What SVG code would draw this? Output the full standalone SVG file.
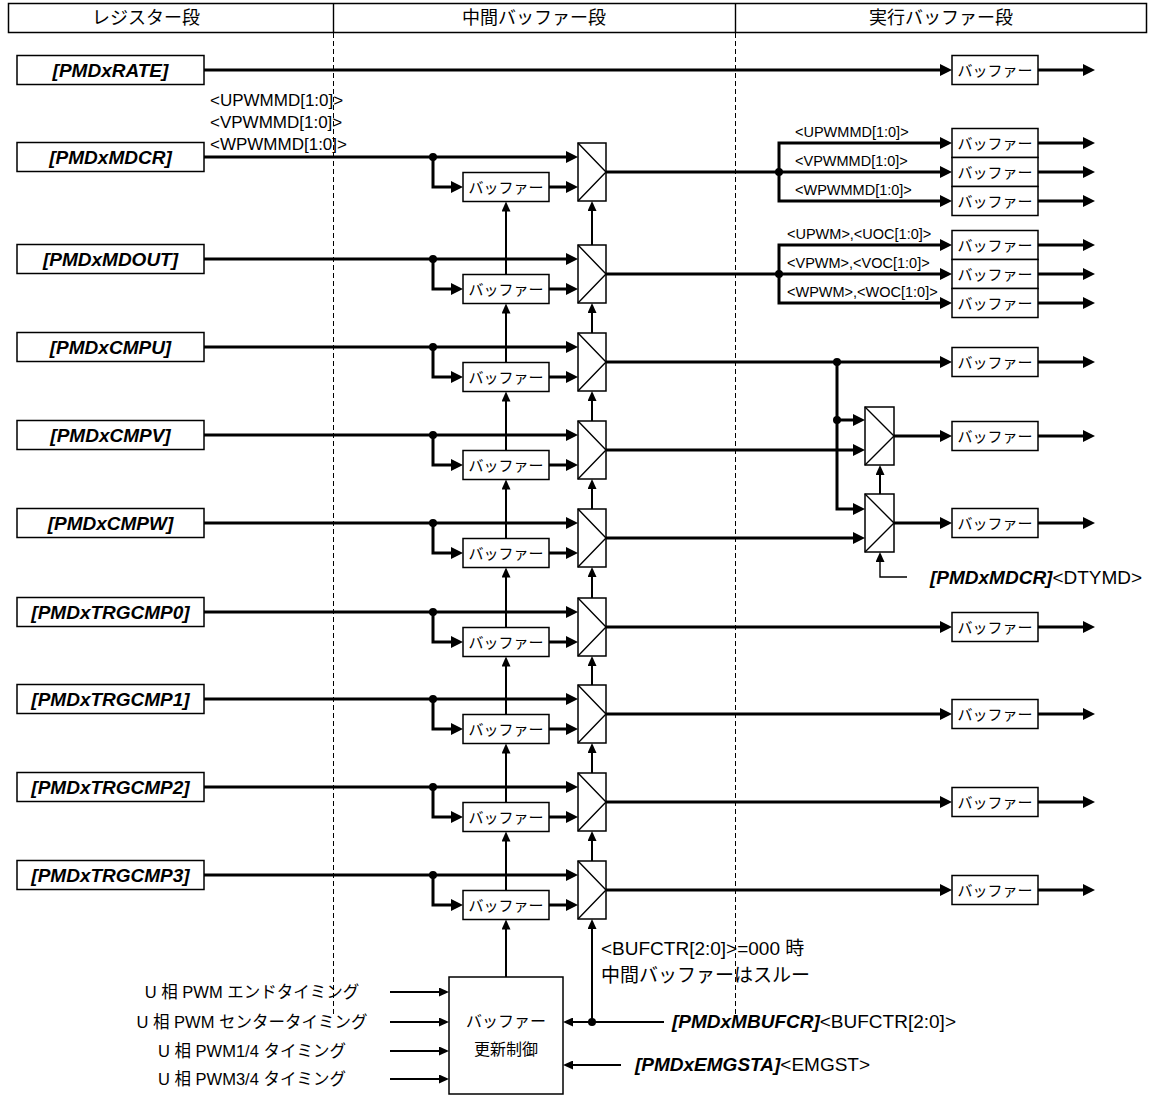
<svg xmlns="http://www.w3.org/2000/svg" width="1155" height="1097" viewBox="0 0 1155 1097">
<defs>
<style>
.bg{fill:#fff}
.box{fill:#fff;stroke:#000;stroke-width:1.5}
.w3{fill:none;stroke:#000;stroke-width:3}
.w2{fill:none;stroke:#000;stroke-width:2}
.w1{fill:none;stroke:#000;stroke-width:1.4}
.dash{fill:none;stroke:#000;stroke-width:1;stroke-dasharray:5 3}
.dot{fill:#000}
text{font-family:"Liberation Sans","Noto Sans CJK JP",sans-serif;fill:#000}
.hd{font-size:18px;text-anchor:middle}
.reg{font-size:19px;font-weight:bold;font-style:italic;text-anchor:middle}
.bi{font-weight:bold;font-style:italic}
.buf{font-size:15px;text-anchor:middle}
.lbl{font-size:17px}
.sl{font-size:14.5px}
.ann{font-size:19px}
.in{font-size:16.5px;text-anchor:middle}
.ctl{font-size:16px;text-anchor:middle}
</style>
<marker id="a3" viewBox="0 0 12 12" markerWidth="12" markerHeight="12" refX="8" refY="6" orient="auto-start-reverse" markerUnits="userSpaceOnUse"><path d="M0,0 L12,6 L0,12 z"/></marker>
<marker id="a2" viewBox="0 0 10 9" markerWidth="10" markerHeight="9" refX="7" refY="4.5" orient="auto-start-reverse" markerUnits="userSpaceOnUse"><path d="M0,0 L10,4.5 L0,9 z"/></marker>
</defs>
<rect class="bg" x="0" y="0" width="1155" height="1097"/>

<g id="header">
<rect class="box" x="8.5" y="3.5" width="1138" height="29"/>
<line class="w1" x1="333.5" y1="3.5" x2="333.5" y2="32.5"/>
<line class="w1" x1="735.5" y1="3.5" x2="735.5" y2="32.5"/>
<text class="hd" x="146" y="24">レジスター段</text>
<text class="hd" x="534" y="24">中間バッファー段</text>
<text class="hd" x="941" y="24">実行バッファー段</text>
</g>

<g id="stage-dividers">
<line class="dash" x1="333.5" y1="33" x2="333.5" y2="1015"/>
<line class="dash" x1="735.5" y1="33" x2="735.5" y2="1015"/>
</g>

<g id="connectors">
<path class="w3" d="M204,70 H948" marker-end="url(#a3)"/>
<path class="w3" d="M204,157 H574" marker-end="url(#a3)"/>
<path class="w3" d="M433,157 V187 H459" marker-end="url(#a3)"/>
<path class="w3" d="M549,187 H574" marker-end="url(#a3)"/>
<path class="w3" d="M204,259 H574" marker-end="url(#a3)"/>
<path class="w3" d="M433,259 V289 H459" marker-end="url(#a3)"/>
<path class="w3" d="M549,289 H574" marker-end="url(#a3)"/>
<path class="w3" d="M204,347 H574" marker-end="url(#a3)"/>
<path class="w3" d="M433,347 V377 H459" marker-end="url(#a3)"/>
<path class="w3" d="M549,377 H574" marker-end="url(#a3)"/>
<path class="w3" d="M204,435 H574" marker-end="url(#a3)"/>
<path class="w3" d="M433,435 V465 H459" marker-end="url(#a3)"/>
<path class="w3" d="M549,465 H574" marker-end="url(#a3)"/>
<path class="w3" d="M204,523 H574" marker-end="url(#a3)"/>
<path class="w3" d="M433,523 V553 H459" marker-end="url(#a3)"/>
<path class="w3" d="M549,553 H574" marker-end="url(#a3)"/>
<path class="w3" d="M204,612 H574" marker-end="url(#a3)"/>
<path class="w3" d="M433,612 V642 H459" marker-end="url(#a3)"/>
<path class="w3" d="M549,642 H574" marker-end="url(#a3)"/>
<path class="w3" d="M204,699 H574" marker-end="url(#a3)"/>
<path class="w3" d="M433,699 V729 H459" marker-end="url(#a3)"/>
<path class="w3" d="M549,729 H574" marker-end="url(#a3)"/>
<path class="w3" d="M204,787 H574" marker-end="url(#a3)"/>
<path class="w3" d="M433,787 V817 H459" marker-end="url(#a3)"/>
<path class="w3" d="M549,817 H574" marker-end="url(#a3)"/>
<path class="w3" d="M204,875 H574" marker-end="url(#a3)"/>
<path class="w3" d="M433,875 V905 H459" marker-end="url(#a3)"/>
<path class="w3" d="M549,905 H574" marker-end="url(#a3)"/>
<path class="w2" d="M506,274.5 V204.5" marker-end="url(#a2)"/>
<path class="w2" d="M506,362.5 V306.5" marker-end="url(#a2)"/>
<path class="w2" d="M506,450.5 V394.5" marker-end="url(#a2)"/>
<path class="w2" d="M506,538.5 V482.5" marker-end="url(#a2)"/>
<path class="w2" d="M506,627.5 V570.5" marker-end="url(#a2)"/>
<path class="w2" d="M506,714.5 V659.5" marker-end="url(#a2)"/>
<path class="w2" d="M506,802.5 V746.5" marker-end="url(#a2)"/>
<path class="w2" d="M506,890.5 V834.5" marker-end="url(#a2)"/>
<path class="w2" d="M506,977 V922.5" marker-end="url(#a2)"/>
<path class="w2" d="M592,245 V204" marker-end="url(#a2)"/>
<path class="w2" d="M592,333 V306" marker-end="url(#a2)"/>
<path class="w2" d="M592,421 V394" marker-end="url(#a2)"/>
<path class="w2" d="M592,509 V482" marker-end="url(#a2)"/>
<path class="w2" d="M592,598 V570" marker-end="url(#a2)"/>
<path class="w2" d="M592,685 V659" marker-end="url(#a2)"/>
<path class="w2" d="M592,773 V746" marker-end="url(#a2)"/>
<path class="w2" d="M592,861 V834" marker-end="url(#a2)"/>
<path class="w2" d="M592,1022 V922" marker-end="url(#a2)"/>
<path class="w2" d="M664,1022 H566" marker-end="url(#a2)"/>
<path class="w2" d="M621,1065 H566" marker-end="url(#a2)"/>
<path class="w2" d="M390,992 H446" marker-end="url(#a2)"/>
<path class="w2" d="M390,1022 H446" marker-end="url(#a2)"/>
<path class="w2" d="M390,1051 H446" marker-end="url(#a2)"/>
<path class="w2" d="M390,1079 H446" marker-end="url(#a2)"/>
<path class="w3" d="M606,172 H948" marker-end="url(#a3)"/>
<path class="w3" d="M948,143 H779 V201 H948" marker-start="url(#a3)" marker-end="url(#a3)"/>
<path class="w3" d="M606,274 H948" marker-end="url(#a3)"/>
<path class="w3" d="M948,245 H779 V303 H948" marker-start="url(#a3)" marker-end="url(#a3)"/>
<path class="w3" d="M606,362 H948" marker-end="url(#a3)"/>
<path class="w3" d="M837,362 V509 H861" marker-end="url(#a3)"/>
<path class="w3" d="M837,420 H861" marker-end="url(#a3)"/>
<path class="w3" d="M606,450 H861" marker-end="url(#a3)"/>
<path class="w3" d="M606,538 H861" marker-end="url(#a3)"/>
<path class="w3" d="M894,436 H948" marker-end="url(#a3)"/>
<path class="w3" d="M894,523 H948" marker-end="url(#a3)"/>
<path class="w2" d="M880,494 V468" marker-end="url(#a2)"/>
<path class="w1" d="M907,577 H880 V555" marker-end="url(#a2)"/>
<path class="w3" d="M606,627 H948" marker-end="url(#a3)"/>
<path class="w3" d="M606,714 H948" marker-end="url(#a3)"/>
<path class="w3" d="M606,802 H948" marker-end="url(#a3)"/>
<path class="w3" d="M606,890 H948" marker-end="url(#a3)"/>
<path class="w3" d="M1038,70 H1091" marker-end="url(#a3)"/>
<path class="w3" d="M1038,143 H1091" marker-end="url(#a3)"/>
<path class="w3" d="M1038,172 H1091" marker-end="url(#a3)"/>
<path class="w3" d="M1038,201 H1091" marker-end="url(#a3)"/>
<path class="w3" d="M1038,245 H1091" marker-end="url(#a3)"/>
<path class="w3" d="M1038,274 H1091" marker-end="url(#a3)"/>
<path class="w3" d="M1038,303 H1091" marker-end="url(#a3)"/>
<path class="w3" d="M1038,362 H1091" marker-end="url(#a3)"/>
<path class="w3" d="M1038,436 H1091" marker-end="url(#a3)"/>
<path class="w3" d="M1038,523 H1091" marker-end="url(#a3)"/>
<path class="w3" d="M1038,627 H1091" marker-end="url(#a3)"/>
<path class="w3" d="M1038,714 H1091" marker-end="url(#a3)"/>
<path class="w3" d="M1038,802 H1091" marker-end="url(#a3)"/>
<path class="w3" d="M1038,890 H1091" marker-end="url(#a3)"/>
<circle class="dot" cx="433" cy="157" r="4"/>
<circle class="dot" cx="433" cy="259" r="4"/>
<circle class="dot" cx="433" cy="347" r="4"/>
<circle class="dot" cx="433" cy="435" r="4"/>
<circle class="dot" cx="433" cy="523" r="4"/>
<circle class="dot" cx="433" cy="612" r="4"/>
<circle class="dot" cx="433" cy="699" r="4"/>
<circle class="dot" cx="433" cy="787" r="4"/>
<circle class="dot" cx="433" cy="875" r="4"/>
<circle class="dot" cx="779" cy="172" r="4"/>
<circle class="dot" cx="779" cy="274" r="4"/>
<circle class="dot" cx="837" cy="362" r="4"/>
<circle class="dot" cx="837" cy="420" r="4"/>
<circle class="dot" cx="592" cy="1022" r="4"/>
<text class="lbl" x="210" y="106">&lt;UPWMMD[1:0]&gt;</text>
<text class="lbl" x="210" y="128">&lt;VPWMMD[1:0]&gt;</text>
<text class="lbl" x="210" y="150">&lt;WPWMMD[1:0]&gt;</text>
<text class="sl" x="795" y="137">&lt;UPWMMD[1:0]&gt;</text>
<text class="sl" x="795" y="166">&lt;VPWMMD[1:0]&gt;</text>
<text class="sl" x="795" y="195">&lt;WPWMMD[1:0]&gt;</text>
<text class="sl" x="787" y="239">&lt;UPWM&gt;,&lt;UOC[1:0]&gt;</text>
<text class="sl" x="787" y="268">&lt;VPWM&gt;,&lt;VOC[1:0]&gt;</text>
<text class="sl" x="787" y="297">&lt;WPWM&gt;,&lt;WOC[1:0]&gt;</text>
<text class="ann" x="930" y="584"><tspan class="bi">[PMDxMDCR]</tspan>&lt;DTYMD&gt;</text>
<text class="ann" x="601" y="955">&lt;BUFCTR[2:0]&gt;=000 時</text>
<text class="ann" x="601" y="982">中間バッファーはスルー</text>
<text class="ann" x="672" y="1028"><tspan class="bi">[PMDxMBUFCR]</tspan>&lt;BUFCTR[2:0]&gt;</text>
<text class="ann" x="635" y="1071"><tspan class="bi">[PMDxEMGSTA]</tspan>&lt;EMGST&gt;</text>
<text class="in" x="252" y="998">U 相 PWM エンドタイミング</text>
<text class="in" x="252" y="1028">U 相 PWM センタータイミング</text>
<text class="in" x="252" y="1057">U 相 PWM1/4 タイミング</text>
<text class="in" x="252" y="1085">U 相 PWM3/4 タイミング</text>
</g>

<g id="reg-RATE"><rect class="box" x="17" y="55.5" width="187" height="29"/><text class="reg" x="110.5" y="77">[PMDxRATE]</text></g>
<g id="reg-MDCR"><rect class="box" x="17" y="142.5" width="187" height="29"/><text class="reg" x="110.5" y="164">[PMDxMDCR]</text></g>
<g id="reg-MDOUT"><rect class="box" x="17" y="244.5" width="187" height="29"/><text class="reg" x="110.5" y="266">[PMDxMDOUT]</text></g>
<g id="reg-CMPU"><rect class="box" x="17" y="332.5" width="187" height="29"/><text class="reg" x="110.5" y="354">[PMDxCMPU]</text></g>
<g id="reg-CMPV"><rect class="box" x="17" y="420.5" width="187" height="29"/><text class="reg" x="110.5" y="442">[PMDxCMPV]</text></g>
<g id="reg-CMPW"><rect class="box" x="17" y="508.5" width="187" height="29"/><text class="reg" x="110.5" y="530">[PMDxCMPW]</text></g>
<g id="reg-TRGCMP0"><rect class="box" x="17" y="597.5" width="187" height="29"/><text class="reg" x="110.5" y="619">[PMDxTRGCMP0]</text></g>
<g id="reg-TRGCMP1"><rect class="box" x="17" y="684.5" width="187" height="29"/><text class="reg" x="110.5" y="706">[PMDxTRGCMP1]</text></g>
<g id="reg-TRGCMP2"><rect class="box" x="17" y="772.5" width="187" height="29"/><text class="reg" x="110.5" y="794">[PMDxTRGCMP2]</text></g>
<g id="reg-TRGCMP3"><rect class="box" x="17" y="860.5" width="187" height="29"/><text class="reg" x="110.5" y="882">[PMDxTRGCMP3]</text></g>

<g id="mbuf-MDCR"><rect class="box" x="463" y="172.5" width="86" height="29"/><text class="buf" x="506" y="192.5">バッファー</text></g>
<g id="mbuf-MDOUT"><rect class="box" x="463" y="274.5" width="86" height="29"/><text class="buf" x="506" y="294.5">バッファー</text></g>
<g id="mbuf-CMPU"><rect class="box" x="463" y="362.5" width="86" height="29"/><text class="buf" x="506" y="382.5">バッファー</text></g>
<g id="mbuf-CMPV"><rect class="box" x="463" y="450.5" width="86" height="29"/><text class="buf" x="506" y="470.5">バッファー</text></g>
<g id="mbuf-CMPW"><rect class="box" x="463" y="538.5" width="86" height="29"/><text class="buf" x="506" y="558.5">バッファー</text></g>
<g id="mbuf-TRGCMP0"><rect class="box" x="463" y="627.5" width="86" height="29"/><text class="buf" x="506" y="647.5">バッファー</text></g>
<g id="mbuf-TRGCMP1"><rect class="box" x="463" y="714.5" width="86" height="29"/><text class="buf" x="506" y="734.5">バッファー</text></g>
<g id="mbuf-TRGCMP2"><rect class="box" x="463" y="802.5" width="86" height="29"/><text class="buf" x="506" y="822.5">バッファー</text></g>
<g id="mbuf-TRGCMP3"><rect class="box" x="463" y="890.5" width="86" height="29"/><text class="buf" x="506" y="910.5">バッファー</text></g>

<g id="mux-MDCR"><rect class="box" x="578" y="143" width="28" height="58"/><path class="w1" d="M578,143 L606,172 L578,201"/></g>
<g id="mux-MDOUT"><rect class="box" x="578" y="245" width="28" height="58"/><path class="w1" d="M578,245 L606,274 L578,303"/></g>
<g id="mux-CMPU"><rect class="box" x="578" y="333" width="28" height="58"/><path class="w1" d="M578,333 L606,362 L578,391"/></g>
<g id="mux-CMPV"><rect class="box" x="578" y="421" width="28" height="58"/><path class="w1" d="M578,421 L606,450 L578,479"/></g>
<g id="mux-CMPW"><rect class="box" x="578" y="509" width="28" height="58"/><path class="w1" d="M578,509 L606,538 L578,567"/></g>
<g id="mux-TRGCMP0"><rect class="box" x="578" y="598" width="28" height="58"/><path class="w1" d="M578,598 L606,627 L578,656"/></g>
<g id="mux-TRGCMP1"><rect class="box" x="578" y="685" width="28" height="58"/><path class="w1" d="M578,685 L606,714 L578,743"/></g>
<g id="mux-TRGCMP2"><rect class="box" x="578" y="773" width="28" height="58"/><path class="w1" d="M578,773 L606,802 L578,831"/></g>
<g id="mux-TRGCMP3"><rect class="box" x="578" y="861" width="28" height="58"/><path class="w1" d="M578,861 L606,890 L578,919"/></g>
<g id="mux-DT-V"><rect class="box" x="865" y="407" width="29" height="58"/><path class="w1" d="M865,407 L894,436 L865,465"/></g>
<g id="mux-DT-W"><rect class="box" x="865" y="494" width="29" height="58"/><path class="w1" d="M865,494 L894,523 L865,552"/></g>

<g id="ebuf-RATE"><rect class="box" x="952" y="55.5" width="86" height="29"/><text class="buf" x="995" y="75.5">バッファー</text></g>
<g id="ebuf-UPWMMD"><rect class="box" x="952" y="128.5" width="86" height="29"/><text class="buf" x="995" y="148.5">バッファー</text></g>
<g id="ebuf-VPWMMD"><rect class="box" x="952" y="157.5" width="86" height="29"/><text class="buf" x="995" y="177.5">バッファー</text></g>
<g id="ebuf-WPWMMD"><rect class="box" x="952" y="186.5" width="86" height="29"/><text class="buf" x="995" y="206.5">バッファー</text></g>
<g id="ebuf-UPWM"><rect class="box" x="952" y="230.5" width="86" height="29"/><text class="buf" x="995" y="250.5">バッファー</text></g>
<g id="ebuf-VPWM"><rect class="box" x="952" y="259.5" width="86" height="29"/><text class="buf" x="995" y="279.5">バッファー</text></g>
<g id="ebuf-WPWM"><rect class="box" x="952" y="288.5" width="86" height="29"/><text class="buf" x="995" y="308.5">バッファー</text></g>
<g id="ebuf-CMPU"><rect class="box" x="952" y="347.5" width="86" height="29"/><text class="buf" x="995" y="367.5">バッファー</text></g>
<g id="ebuf-CMPV"><rect class="box" x="952" y="421.5" width="86" height="29"/><text class="buf" x="995" y="441.5">バッファー</text></g>
<g id="ebuf-CMPW"><rect class="box" x="952" y="508.5" width="86" height="29"/><text class="buf" x="995" y="528.5">バッファー</text></g>
<g id="ebuf-TRGCMP0"><rect class="box" x="952" y="612.5" width="86" height="29"/><text class="buf" x="995" y="632.5">バッファー</text></g>
<g id="ebuf-TRGCMP1"><rect class="box" x="952" y="699.5" width="86" height="29"/><text class="buf" x="995" y="719.5">バッファー</text></g>
<g id="ebuf-TRGCMP2"><rect class="box" x="952" y="787.5" width="86" height="29"/><text class="buf" x="995" y="807.5">バッファー</text></g>
<g id="ebuf-TRGCMP3"><rect class="box" x="952" y="875.5" width="86" height="29"/><text class="buf" x="995" y="895.5">バッファー</text></g>

<g id="update-control"><rect class="box" x="449" y="977" width="114" height="117"/><text class="ctl" x="506" y="1027">バッファー</text><text class="ctl" x="506" y="1055">更新制御</text></g>
</svg>
